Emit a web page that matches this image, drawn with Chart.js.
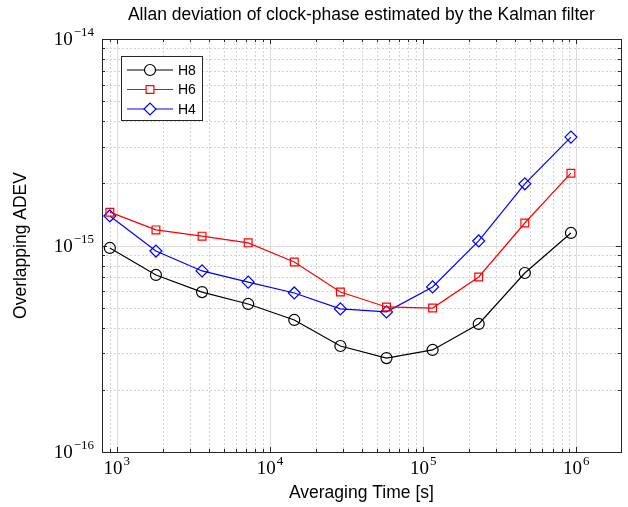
<!DOCTYPE html>
<html><head><meta charset="utf-8">
<script src="https://cdn.jsdelivr.net/npm/chart.js@4.4.1/dist/chart.umd.min.js"></script>
<style>html,body{margin:0;padding:0;background:#fff;}#wrap{width:628px;height:507px;}</style>
</head><body><div id="wrap"><canvas id="c" width="628" height="507"></canvas></div>
<script>
// ---- data ----
const tau = [900, 1800, 3600, 7200, 14400, 28800, 57600, 115200, 230400, 460800, 921600];
const seriesNames = ['H8', 'H6', 'H4'];
const h8 = [0.973e-15, 0.720e-15, 0.595e-15, 0.521e-15, 0.436e-15, 0.326e-15, 0.285e-15, 0.312e-15, 0.417e-15, 0.736e-15, 1.150e-15];
const h6 = [1.45e-15, 1.19e-15, 1.11e-15, 1.03e-15, 0.832e-15, 0.595e-15, 0.504e-15, 0.498e-15, 0.704e-15, 1.285e-15, 2.24e-15];
const h4 = [1.39e-15, 0.940e-15, 0.753e-15, 0.665e-15, 0.589e-15, 0.493e-15, 0.477e-15, 0.630e-15, 1.052e-15, 1.99e-15, 3.35e-15];
const xTickExp = [3, 4, 5, 6];
const yTickExp = [-16, -15, -14];
const titleText = 'Allan deviation of clock-phase estimated by the Kalman filter';
const xTitle = 'Averaging Time [s]';
const yTitle = 'Overlapping ADEV';

const AX = '#262626';
const SANS = "'Liberation Sans', Arial, sans-serif";
const SERIF = "'Liberation Serif', 'DejaVu Serif', serif";

function pts(arr) { return tau.map((t, i) => ({x: t, y: arr[i]})); }

const styles = [
  {color: '#000000', pointStyle: 'circle', radius: 5.5},
  {color: '#ff0000', pointStyle: 'rect', radius: 5.5},
  {color: '#0000ff', pointStyle: 'rectRot', radius: 6}
];
const values = [h8, h6, h4];

const datasets = seriesNames.map((n, k) => ({
  label: n,
  data: pts(values[k]),
  borderColor: styles[k].color,
  backgroundColor: 'rgba(0,0,0,0)',
  pointBackgroundColor: 'rgba(0,0,0,0)',
  pointBorderColor: styles[k].color,
  pointStyle: styles[k].pointStyle,
  pointRadius: styles[k].radius,
  pointBorderWidth: 1.2,
  borderWidth: 1.2,
  tension: 0,
  fill: false
}));

function drawPow(ctx, exp, x, y, align) {
  const baseFont = '19px ' + SERIF;
  const expFont = '13px ' + SERIF;
  const expStr = (exp < 0 ? '\u2212' : '') + Math.abs(exp);
  ctx.font = baseFont;
  const wb = ctx.measureText('10').width;
  ctx.font = expFont;
  const we = ctx.measureText(expStr).width;
  const total = wb + we + 1;
  let x0 = align === 'right' ? x - total : x - total / 2;
  ctx.fillStyle = '#000';
  ctx.textBaseline = 'alphabetic';
  ctx.textAlign = 'left';
  ctx.font = baseFont;
  ctx.fillText('10', x0, y + 6);
  ctx.font = expFont;
  ctx.fillText(expStr, x0 + wb + 1, y - 3);
}

const decor = {
  id: 'decor',
  beforeDatasetsDraw(chart) {
    const {ctx, chartArea: a, scales: {x: xs, y: ys}} = chart;
    ctx.save();
    ctx.beginPath(); ctx.rect(a.left, a.top, a.right - a.left, a.bottom - a.top); ctx.clip();
    // minor dotted grid
    ctx.strokeStyle = '#d2d2d2'; ctx.lineWidth = 1; ctx.setLineDash([2, 2]);
    for (let d = 2; d <= 6; d++) for (let m = 2; m <= 9; m++) {
      const v = m * Math.pow(10, d);
      if (v <= xs.min || v >= xs.max) continue;
      const px = Math.round(xs.getPixelForValue(v)) + 0.5;
      ctx.beginPath(); ctx.moveTo(px, a.top); ctx.lineTo(px, a.bottom); ctx.stroke();
    }
    for (let d = -16; d <= -15; d++) for (let m = 2; m <= 9; m++) {
      const v = m * Math.pow(10, d);
      const py = Math.round(ys.getPixelForValue(v)) + 0.5;
      ctx.beginPath(); ctx.moveTo(a.left, py); ctx.lineTo(a.right, py); ctx.stroke();
    }
    // major solid grid
    ctx.setLineDash([]); ctx.strokeStyle = '#dcdcdc';
    xTickExp.forEach(e => {
      const px = Math.round(xs.getPixelForValue(Math.pow(10, e))) + 0.5;
      ctx.beginPath(); ctx.moveTo(px, a.top); ctx.lineTo(px, a.bottom); ctx.stroke();
    });
    yTickExp.forEach(e => {
      const py = Math.round(ys.getPixelForValue(Math.pow(10, e))) + 0.5;
      ctx.beginPath(); ctx.moveTo(a.left, py); ctx.lineTo(a.right, py); ctx.stroke();
    });
    ctx.restore();
  },
  afterDatasetsDraw(chart) {
    const {ctx, chartArea: a, scales: {x: xs, y: ys}} = chart;
    ctx.save();
    // box
    ctx.strokeStyle = AX; ctx.lineWidth = 1; ctx.setLineDash([]);
    ctx.strokeRect(Math.round(a.left) + 0.5, Math.round(a.top) + 0.5, Math.round(a.right - a.left), Math.round(a.bottom - a.top));
    // ticks
    ctx.beginPath();
    for (let d = 2; d <= 6; d++) for (let m = 1; m <= 9; m++) {
      const v = m * Math.pow(10, d);
      if (v <= xs.min || v >= xs.max) continue;
      const L = m === 1 ? 5 : 3;
      const px = Math.round(xs.getPixelForValue(v)) + 0.5;
      ctx.moveTo(px, a.bottom); ctx.lineTo(px, a.bottom - L);
      ctx.moveTo(px, a.top); ctx.lineTo(px, a.top + L);
    }
    for (let d = -16; d <= -15; d++) for (let m = 1; m <= 9; m++) {
      const v = m * Math.pow(10, d);
      const L = m === 1 ? 5 : 3;
      const py = Math.round(ys.getPixelForValue(v)) + 0.5;
      ctx.moveTo(a.left, py); ctx.lineTo(a.left + L, py);
      ctx.moveTo(a.right, py); ctx.lineTo(a.right - L, py);
    }
    ctx.stroke();
    // tick labels
    xTickExp.forEach(e => drawPow(ctx, e, xs.getPixelForValue(Math.pow(10, e)), a.bottom + 16, 'center'));
    yTickExp.forEach(e => drawPow(ctx, e, a.left - 8, ys.getPixelForValue(Math.pow(10, e)), 'right'));
    // legend
    const lx = 121, ly = 56, lw = 81, lh = 64;
    ctx.fillStyle = '#fff'; ctx.fillRect(lx, ly, lw, lh);
    ctx.strokeStyle = AX; ctx.lineWidth = 1;
    ctx.strokeRect(lx + 0.5, ly + 0.5, lw, lh);
    chart.data.datasets.forEach((ds, i) => {
      const yy = ly + 14 + i * 19.5;
      ctx.strokeStyle = ds.borderColor; ctx.lineWidth = ds.borderWidth;
      ctx.beginPath(); ctx.moveTo(lx + 6, yy); ctx.lineTo(lx + 52, yy); ctx.stroke();
      ctx.fillStyle = '#ffffff'; ctx.strokeStyle = ds.pointBorderColor; ctx.lineWidth = ds.pointBorderWidth;
      Chart.helpers.drawPoint(ctx, {pointStyle: ds.pointStyle, radius: ds.pointRadius, borderWidth: ds.pointBorderWidth, rotation: 0}, lx + 29, yy);
      ctx.fillStyle = '#000'; ctx.font = '14px ' + SANS; ctx.textBaseline = 'middle'; ctx.textAlign = 'left';
      ctx.fillText(ds.label, lx + 57, yy + 1);
    });
    ctx.restore();
  }
};

new Chart(document.getElementById('c'), {
  type: 'line',
  data: {datasets},
  options: {
    responsive: false, animation: false, devicePixelRatio: 1,
    layout: {padding: {left: 0, right: 6, top: 0, bottom: 0}},
    scales: {
      x: {
        type: 'logarithmic', min: 800, max: 1.95e6,
        ticks: {display: false}, grid: {display: false}, border: {display: false},
        title: {display: true, text: xTitle, color: '#000', font: {family: SANS, size: 17.5}, padding: {top: 0, bottom: 3}},
        afterFit(s) { s.height = 55; }
      },
      y: {
        type: 'logarithmic', min: 1e-16, max: 1e-14,
        ticks: {display: false}, grid: {display: false}, border: {display: false},
        title: {display: true, text: yTitle, color: '#000', font: {family: SANS, size: 17.5}, padding: {top: 11, bottom: 0}},
        afterFit(s) { s.width = 102; }
      }
    },
    plugins: {
      legend: {display: false},
      tooltip: {enabled: false},
      title: {display: true, text: titleText, fullSize: false, color: '#000', font: {family: SANS, size: 17.5, weight: 'normal'}, padding: {top: 5, bottom: 13}}
    }
  },
  plugins: [decor]
});
</script></body></html>
